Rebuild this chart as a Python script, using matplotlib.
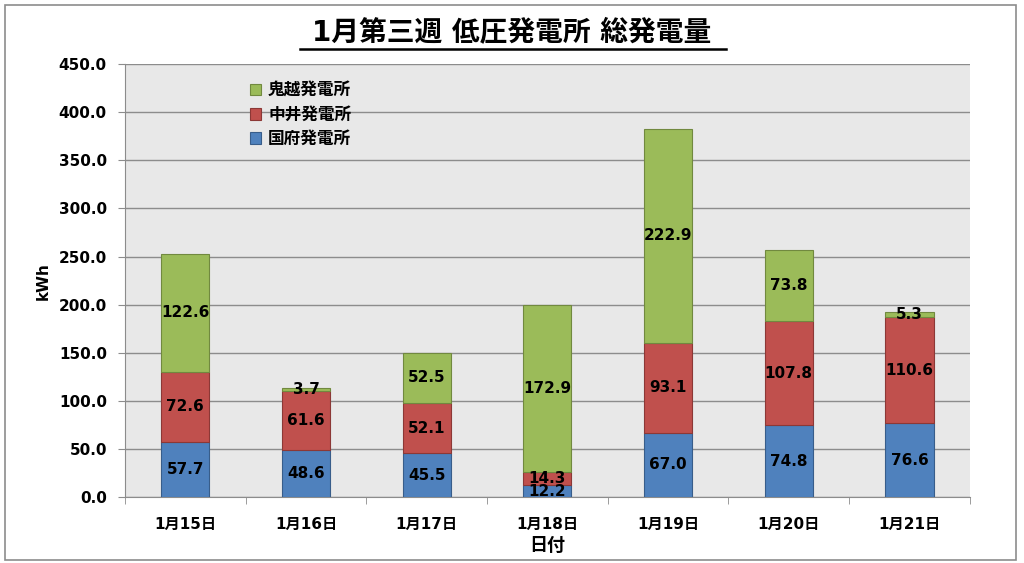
import matplotlib
matplotlib.use("Agg")
import matplotlib.pyplot as plt
import numpy as np
from matplotlib.patches import Rectangle

plt.rcParams['font.family'] = ['DejaVu Sans', 'Noto Sans CJK JP']

days = ["1月15日", "1月16日", "1月17日", "1月18日", "1月19日", "1月20日", "1月21日"]
kokufu = [57.7, 48.6, 45.5, 12.2, 67.0, 74.8, 76.6]
nakai = [72.6, 61.6, 52.1, 14.3, 93.1, 107.8, 110.6]
onigoe = [122.6, 3.7, 52.5, 172.9, 222.9, 73.8, 5.3]
series_names = ["国府発電所", "中井発電所", "鬼越発電所"]
colors = ["#4F81BD", "#C0504D", "#9BBB59"]
edges = ["#385D8A", "#8C3836", "#71893F"]

fig = plt.figure(figsize=(10.24, 5.63), dpi=100)
fig.patches.append(Rectangle((0.005, 0.006), 0.987, 0.985, transform=fig.transFigure,
                             fill=False, edgecolor="#8C8C8C", linewidth=1.2))
ax = fig.add_axes([0.122, 0.117, 0.825, 0.769])
ax.set_facecolor("#E8E8E8")

x = np.arange(len(days))
bottom = np.zeros(len(days))
handles = []
for vals, name, c, ec in zip([kokufu, nakai, onigoe], series_names, colors, edges):
    b = ax.bar(x, vals, 0.4, bottom=bottom, color=c, edgecolor=ec, linewidth=0.8,
               label=name, zorder=3)
    handles.append(b)
    for xi, v, bt in zip(x, vals, bottom):
        ax.text(xi, bt + v / 2, f"{v:.1f}", ha="center", va="center",
                fontsize=11, fontweight="bold", zorder=4)
    bottom += np.array(vals)

ax.set_xlim(-0.5, len(days) - 0.5)
ax.set_ylim(0, 450)
ax.set_yticks(np.arange(0, 451, 50))
ax.set_yticklabels([f"{v:.1f}" for v in np.arange(0, 451, 50)], fontsize=11, fontweight="bold")
ax.set_xticks(x)
ax.set_xticklabels(days, fontsize=11, fontweight="bold")
ax.grid(axis="y", color="#8C8C8C", linewidth=1.0, zorder=0)
for s in ["top", "right"]:
    ax.spines[s].set_visible(False)
ax.spines["left"].set_color("#8C8C8C")
ax.spines["bottom"].set_color("#8C8C8C")
ax.tick_params(axis="y", length=5, color="#8C8C8C", direction="out", pad=8)
ax.tick_params(axis="x", length=0, pad=14)
ax.set_xticks(np.arange(-0.5, len(days), 1), minor=True)
ax.tick_params(axis="x", which="minor", length=5, color="#8C8C8C")

ax.set_ylabel("kWh", fontsize=11, fontweight="bold", labelpad=6)
ax.set_xlabel("日付", fontsize=13, fontweight="bold", labelpad=4)

ax.legend(handles[::-1], series_names[::-1], loc="upper left", bbox_to_anchor=(0.13, 0.995),
          frameon=False, prop={"weight": "bold", "size": 12},
          handlelength=0.7, handleheight=0.7, handletextpad=0.4, labelspacing=0.38)

fig.text(0.5, 0.943, "1月第三週 低圧発電所 総発電量", ha="center", va="center",
         fontsize=20, fontweight="bold")
fig.add_artist(plt.Line2D([0.293, 0.709], [0.913, 0.913], color="black", linewidth=1.8,
                          transform=fig.transFigure))

fig.savefig("out.png", dpi=100)
